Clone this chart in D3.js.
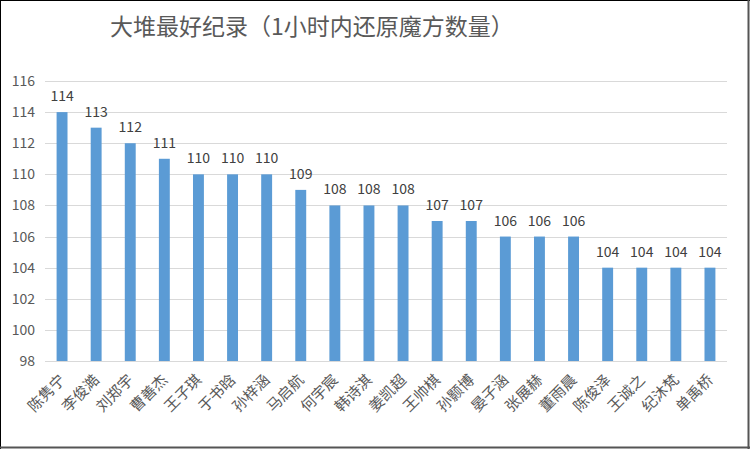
<!DOCTYPE html>
<html>
<head>
<meta charset="utf-8">
<script src="https://cdn.jsdelivr.net/npm/d3@7"></script>
<style>
  body { margin: 0; background: #fff; }
  svg { display: block; }
  text { font-family: "Noto Sans CJK SC", "Noto Sans", sans-serif; }
</style>
</head>
<body>
<div class="chart"></div>
<script>
//chart data
const names = ["陈隽宁", "李俊澔", "刘郑宇", "曹善杰", "王子琪", "于书晗", "孙梓涵", "马启航", "何宇宸", "韩诗淇",
               "姜凯超", "王帅棋", "孙颢博", "晏子涵", "张展赫", "董雨晨", "陈俊泽", "王诚之", "纪沐梵", "单禹桥"];
const records = [114, 113, 112, 111, 110, 110, 110, 109, 108, 108,
                 108, 107, 107, 106, 106, 106, 104, 104, 104, 104];
const yTicks = [98, 100, 102, 104, 106, 108, 110, 112, 114, 116];
const title = "大堆最好纪录（1小时内还原魔方数量）";

//dimensions
const SIZE = {X: 750, Y: 449};
const MARGIN = {TOP: 81, BOTTOM: 88, LEFT: 45, RIGHT: 23};
const DIM = {WIDTH: SIZE.X - MARGIN.LEFT - MARGIN.RIGHT,
             HEIGHT: SIZE.Y - MARGIN.TOP - MARGIN.BOTTOM};

const svg = d3.select(".chart").append("svg")
    .attr("width", SIZE.X)
    .attr("height", SIZE.Y);

//frame around the chart
svg.append("line").attr("x1", 0.5).attr("y1", 0).attr("x2", 0.5).attr("y2", SIZE.Y).attr("stroke", "#000");
svg.append("line").attr("x1", 0).attr("y1", 0.5).attr("x2", SIZE.X).attr("y2", 0.5).attr("stroke", "#000");
svg.append("line").attr("x1", SIZE.X - 1.5).attr("y1", 0).attr("x2", SIZE.X - 1.5).attr("y2", SIZE.Y)
    .attr("stroke", "#555").attr("stroke-width", 2);
svg.append("line").attr("x1", 0).attr("y1", SIZE.Y - 1.5).attr("x2", SIZE.X).attr("y2", SIZE.Y - 1.5)
    .attr("stroke", "#555").attr("stroke-width", 2);

//title
svg.append("text")
    .attr("x", 312)
    .attr("y", 35)
    .attr("text-anchor", "middle")
    .attr("font-size", 23)
    .attr("fill", "#595959")
    .text(title);

const graph = svg.append("g")
    .attr("transform", `translate(${MARGIN.LEFT}, ${MARGIN.TOP})`);

//scales
const x = d3.scaleBand()
    .domain(names)
    .range([0, DIM.WIDTH])
    .paddingInner(0.68)
    .paddingOuter(0.34);

const y = d3.scaleLinear()
    .domain([98, 116])
    .range([DIM.HEIGHT, 0]);

//gridlines
graph.append("g")
    .selectAll("line")
    .data(yTicks)
    .enter()
    .append("line")
        .attr("x1", 0)
        .attr("x2", DIM.WIDTH)
        .attr("y1", d => Math.round(y(d)) + 0.5)
        .attr("y2", d => Math.round(y(d)) + 0.5)
        .attr("stroke", "#d9d9d9")
        .attr("stroke-width", 1);

//y axis
const yAxis = graph.append("g")
    .attr("class", "y axis")
    .call(d3.axisLeft(y).tickValues(yTicks).tickSize(0).tickPadding(10));
yAxis.select(".domain").remove();
yAxis.selectAll("text")
    .attr("font-size", 14)
    .attr("fill", "#595959");

//bars
graph.append("g")
    .selectAll("rect")
    .data(records)
    .enter()
    .append("rect")
        .attr("x", (d, i) => x(names[i]))
        .attr("y", d => y(d))
        .attr("width", x.bandwidth())
        .attr("height", d => DIM.HEIGHT - y(d))
        .attr("fill", "#5b9bd5");

//value labels
graph.append("g")
    .selectAll("text")
    .data(records)
    .enter()
    .append("text")
        .attr("x", (d, i) => x(names[i]) + x.bandwidth() / 2)
        .attr("y", d => y(d) - 11)
        .attr("text-anchor", "middle")
        .attr("font-size", 14)
        .attr("fill", "#404040")
        .text(d => d);

//x axis line
graph.append("line")
    .attr("x1", 0)
    .attr("x2", DIM.WIDTH)
    .attr("y1", DIM.HEIGHT + 0.5)
    .attr("y2", DIM.HEIGHT + 0.5)
    .attr("stroke", "#d9d9d9");

//x axis labels, rotated
const xAxis = graph.append("g")
    .attr("class", "x axis")
    .attr("transform", `translate(0, ${DIM.HEIGHT})`)
    .call(d3.axisBottom(x).tickSize(0).tickPadding(0));
xAxis.select(".domain").remove();
xAxis.selectAll("text")
    .attr("font-size", 15)
    .attr("fill", "#595959")
    .attr("text-anchor", "end")
    .attr("dy", 0)
    .attr("transform", "translate(4, 20) rotate(-45)");
</script>
</body>
</html>
